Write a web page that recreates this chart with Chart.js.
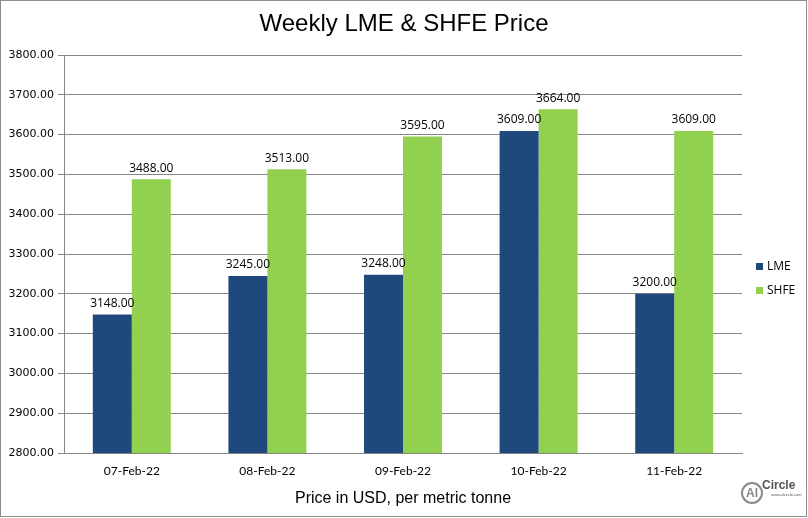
<!DOCTYPE html>
<html>
<head>
<meta charset="utf-8">
<script src="https://cdn.jsdelivr.net/npm/chart.js@4/dist/chart.umd.min.js"></script>
<style>
  html, body { margin: 0; padding: 0; background: #fff; }
  #wrap { width: 808px; height: 518px; position: relative; }
</style>
</head>
<body>
<div id="wrap"><canvas id="price-chart" width="808" height="518"></canvas></div>
<script>
// data
const dates = ['07-Feb-22', '08-Feb-22', '09-Feb-22', '10-Feb-22', '11-Feb-22'];
const lmePrices = [3148, 3245, 3248, 3609, 3200];
const shfePrices = [3488, 3513, 3595, 3664, 3609];
const yTicks = [2800, 2900, 3000, 3100, 3200, 3300, 3400, 3500, 3600, 3700, 3800];

const LME_BLUE = '#1f497d';
const SHFE_GREEN = '#92d050';
const GRID = '#868686';

/* value labels above each bar */
const barLabels = {
    id: 'barLabels',
    afterDatasetsDraw(chart) {
        const ctx = chart.ctx;
        ctx.save();
        ctx.font = '12px "Open Sans", sans-serif';
        ctx.fillStyle = '#000';
        ctx.textAlign = 'center';
        ctx.textBaseline = 'bottom';
        chart.data.datasets.forEach((ds, i) => {
            chart.getDatasetMeta(i).data.forEach((bar, j) => {
                ctx.fillText(ds.data[j].toFixed(2), bar.x, bar.y - 5);
            });
        });
        ctx.restore();
    }
};

/* title, legend, frame and logo */
const decorations = {
    id: 'decorations',
    afterDraw(chart) {
        const ctx = chart.ctx;
        ctx.save();
        // frame
        ctx.strokeStyle = '#8c8c8c';
        ctx.lineWidth = 1;
        ctx.strokeRect(0.5, 0.5, 806, 516);

        // title
        ctx.fillStyle = '#000';
        ctx.font = '24px "Liberation Sans", Arial, sans-serif';
        ctx.textAlign = 'center';
        ctx.textBaseline = 'middle';
        ctx.fillText('Weekly LME & SHFE Price', 404, 24);

        // legend
        ctx.font = '12px "Open Sans", sans-serif';
        ctx.textAlign = 'left';
        chart.data.datasets.forEach((ds, i) => {
            const y = 267 + i * 24;
            ctx.fillStyle = ds.backgroundColor;
            ctx.fillRect(756, y - 4, 7, 7);
            ctx.fillStyle = '#000';
            ctx.fillText(ds.label, 767, y);
        });

        // logo
        ctx.strokeStyle = '#8a8a8a';
        ctx.lineWidth = 2;
        ctx.beginPath();
        ctx.arc(752, 493, 10, 0, Math.PI * 2);
        ctx.stroke();
        ctx.fillStyle = '#8a8a8a';
        ctx.font = 'bold 12px "Liberation Sans", sans-serif';
        ctx.textAlign = 'center';
        ctx.fillText('Al', 752, 494);
        ctx.fillStyle = '#555';
        ctx.font = 'bold 12px "Liberation Sans", sans-serif';
        ctx.textAlign = 'left';
        ctx.fillText('Circle', 762, 486);
        ctx.font = '4px "Liberation Sans", sans-serif';
        ctx.fillText('www.alcircle.com', 771, 495);
        ctx.restore();
    }
};

new Chart(document.getElementById('price-chart'), {
    type: 'bar',
    data: {
        labels: dates,
        datasets: [
            { label: 'LME', data: lmePrices, backgroundColor: LME_BLUE },
            { label: 'SHFE', data: shfePrices, backgroundColor: SHFE_GREEN }
        ]
    },
    options: {
        responsive: false,
        animation: false,
        layout: { padding: { left: 0, top: 55, right: 66, bottom: 0 } },
        datasets: { bar: { categoryPercentage: 0.575, barPercentage: 1.0 } },
        plugins: {
            legend: { display: false },
            tooltip: { enabled: false },
            title: { display: false }
        },
        scales: {
            x: {
                grid: { display: false },
                border: { display: true, color: GRID, width: 1 },
                ticks: { color: '#000', font: { family: 'Lato, sans-serif', size: 12 }, padding: 3 },
                title: {
                    display: true,
                    text: 'Price in USD, per metric tonne',
                    color: '#000',
                    font: { family: '"Liberation Sans", Arial, sans-serif', size: 16 },
                    padding: { top: 0, bottom: 10 }
                },
                afterFit(scale) { scale.height = 65; }
            },
            y: {
                min: yTicks[0],
                max: yTicks[yTicks.length - 1],
                afterBuildTicks(scale) { scale.ticks = yTicks.map(v => ({ value: v })); },
                grid: { color: GRID, tickLength: 6, drawTicks: true },
                border: { display: true, color: GRID },
                ticks: {
                    color: '#000',
                    padding: 4,
                    font: { family: '"DejaVu Sans", Verdana, sans-serif', size: 11 },
                    callback: v => v.toFixed(2)
                },
                afterFit(scale) { scale.width = 64; }
            }
        }
    },
    plugins: [barLabels, decorations]
});
</script>
</body>
</html>
